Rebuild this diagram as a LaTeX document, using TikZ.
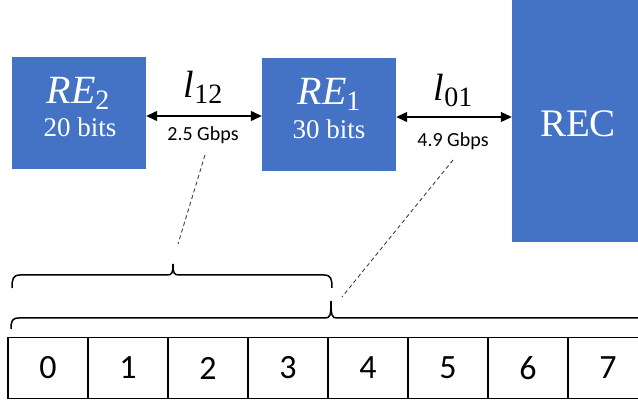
\documentclass[tikz,border=0pt]{standalone}
\usepackage{fontspec}
\newfontfamily\calibri{Carlito}
\newfontfamily\timesf{Liberation Serif}
\usetikzlibrary{arrows.meta}
\definecolor{offblue}{HTML}{4472C4}
\newcommand\mysub[1]{\raisebox{-6pt}{\fontsize{28}{32}\selectfont #1}}
\begin{document}
\begin{tikzpicture}[x=1pt,y=-1pt,
  bluebox/.style={fill=offblue, draw=none, inner sep=0pt, minimum width=134pt},
  boxmath/.style={text=white, anchor=base, inner sep=0pt, font=\timesf\fontsize{40}{44}\selectfont},
  boxbits/.style={text=white, anchor=base, inner sep=0pt, font=\timesf\fontsize{27}{30}\selectfont},
  linkmath/.style={text=black, anchor=base, inner sep=0pt, font=\timesf\fontsize{38}{42}\selectfont},
  rate/.style={text=black, anchor=base, inner sep=0pt, font=\calibri\fontsize{20}{24}\selectfont},
  arr/.style={line width=1.2pt, {Triangle[length=11pt,width=10pt]}-{Triangle[length=11pt,width=10pt]}},
  cell/.style={draw, line width=1.2pt, minimum width=80pt, minimum height=61pt, inner sep=0pt, font=\calibri\fontsize{34}{38}\selectfont},
  bracepath/.style={line width=1.5pt},
  dashline/.style={draw=black!75, line width=0.9pt, dash pattern=on 4pt off 3pt}
]
\useasboundingbox (0,0) rectangle (638,403);

% blue boxes
\node[bluebox, minimum height=112pt] (RE2) at (79,113) {};
\node[bluebox, minimum height=113pt] (RE1) at (329,114.5) {};
\node[bluebox, minimum height=246pt] (REC) at (579,119) {};

\node[boxmath] (re2t) at (78,104) {\textit{RE}\mysub{2}};
\node[boxbits] (re2b) at (80,137) {20 bits};
\node[boxmath] (re1t) at (329,105) {\textit{RE}\mysub{1}};
\node[boxbits] (re1b) at (329,139) {30 bits};
\node[text=white, anchor=base, inner sep=0pt, font=\timesf\fontsize{39}{44}\selectfont] (rect) at (578,137) {REC};

% links
\draw[arr] ([yshift=-3pt]RE2.east) -- ([yshift=-3pt]RE2.east -| RE1.west);
\draw[arr] ([yshift=-2.5pt]RE1.east) -- ([yshift=-2.5pt]RE1.east -| REC.west);
\node[linkmath] (l12) at (203,98) {\textit{l}\mysub{12}};
\node[rate] (g12) at (203,141) {2.5 Gbps};
\node[linkmath] (l01) at (453,101) {\textit{l}\mysub{01}};
\node[rate] (g01) at (453,147) {4.9 Gbps};

% cells
\foreach \i in {0,...,7} \node[cell] (c\i) at (48+80*\i,368) {\i};

% braces
\draw[bracepath] (12,288) .. controls (12,279) and (13,275) .. (20,275) -- (167,275)
  .. controls (172,275) and (173,273) .. (173,264)
  .. controls (173,273) and (174,275) .. (179,275) -- (324,275)
  .. controls (331,275) and (332,279) .. (332,288);
\coordinate (b1) at (173,264);
\draw[bracepath] (11,329) .. controls (11,321) and (12,318) .. (19,318) -- (325,318)
  .. controls (330,318) and (331,316) .. (331,301)
  .. controls (331,316) and (332,318) .. (337,318) -- (645,318);
\coordinate (b2) at (331,301);

% dashed pointers
\coordinate (d1a) at (205,155);
\coordinate (d1b) at (178,244);
\coordinate (d2a) at (453,160);
\coordinate (d2b) at (342,297);
\draw[dashline] (d1a) -- (d1b);
\draw[dashline] (d2a) -- (d2b);
\end{tikzpicture}
\end{document}
